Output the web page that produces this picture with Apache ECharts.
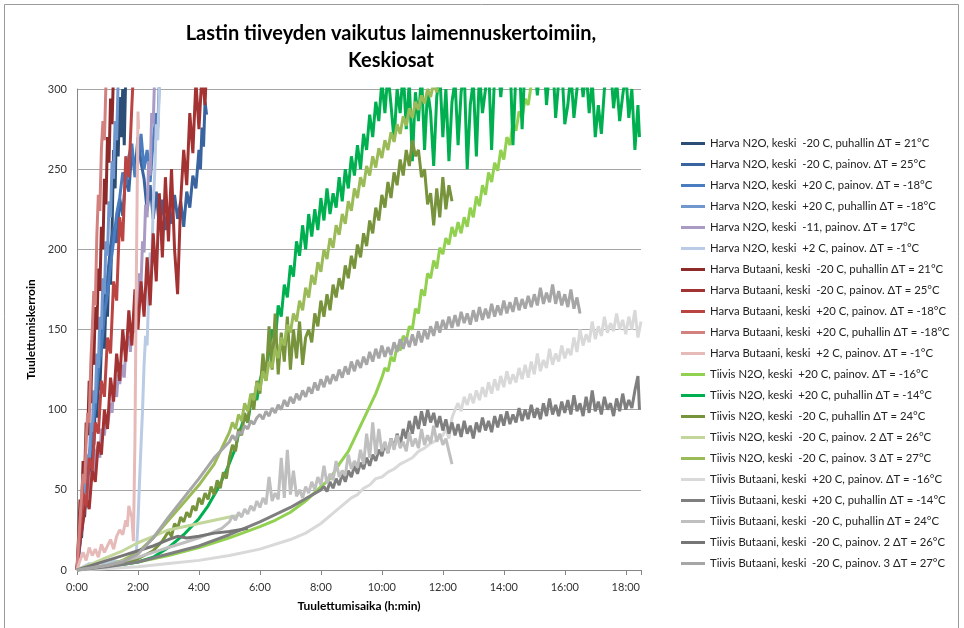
<!DOCTYPE html>
<html>
<head>
<meta charset="utf-8">
<title>Lastin tiiveyden vaikutus laimennuskertoimiin</title>
<script src="https://cdn.jsdelivr.net/npm/echarts@6/dist/echarts.min.js"></script>
<style>
  html, body { margin: 0; padding: 0; background: #fff; }
  #myChart { width: 964px; height: 628px; }
</style>
</head>
<body>
<div id="myChart"></div>
<script>
// aika tunteina (h), arvo = laimennuskerroin
const harvaN2oM20Puh = [[0,0],[0.05,12],[0.1,26],[0.15,20],[0.2,38],[0.25,33],[0.3,52],[0.35,45],[0.4,68],[0.45,60],[0.5,85],[0.55,78],[0.6,104],[0.65,95],[0.7,122],[0.75,112],[0.8,140],[0.85,150],[0.9,138],[0.95,168],[1.0,158],[1.05,190],[1.1,178],[1.15,212],[1.2,262],[1.25,238],[1.3,280],[1.35,258],[1.4,295],[1.45,270],[1.5,300],[1.55,265],[1.6,310]]
const harvaN2oM20Pain = [[0,0],[0.1,16],[0.2,34],[0.3,48],[0.4,72],[0.5,84],[0.6,102],[0.7,126],[0.8,146],[0.9,168],[1.0,182],[1.1,202],[1.2,214],[1.3,204],[1.4,232],[1.5,221],[1.6,246],[1.7,236],[1.8,262],[1.9,248],[2.0,270],[2.1,254],[2.2,244],[2.3,224],[2.4,240],[2.5,219],[2.6,236],[2.7,214],[2.8,231],[2.9,212],[3.0,226],[3.1,216],[3.2,234],[3.3,219],[3.4,230],[3.5,214],[3.6,236],[3.7,226],[3.8,246],[3.9,238],[4.0,262],[4.05,250],[4.1,276],[4.15,264],[4.2,292],[4.25,284]]
const harvaN2oP20Pain = [[0,0],[0.1,18],[0.2,32],[0.3,52],[0.4,66],[0.5,88],[0.6,102],[0.7,124],[0.8,138],[0.9,160],[1.0,172],[1.1,190],[1.2,205],[1.3,222],[1.4,232],[1.5,248],[1.6,240],[1.7,258],[1.8,266],[1.9,245],[2.0,256],[2.1,272],[2.2,250],[2.3,262],[2.4,242],[2.5,268],[2.6,285],[2.65,276],[2.7,305]]
const harvaN2oP20Puh = [[0,0],[0.05,14],[0.1,24],[0.15,38],[0.2,34],[0.25,55],[0.3,50],[0.35,72],[0.4,66],[0.45,92],[0.5,86],[0.55,112],[0.6,104],[0.65,135],[0.7,126],[0.75,158],[0.8,150],[0.85,182],[0.9,172],[0.95,205],[1.0,196],[1.05,230],[1.1,220],[1.15,255],[1.2,244],[1.25,280],[1.3,268],[1.35,305]]
const harvaN2oM11Pain = [[0,0],[0.05,18],[0.1,30],[0.15,26],[0.2,40],[0.3,48],[0.35,44],[0.4,56],[0.5,62],[0.55,58],[0.6,72],[0.7,78],[0.75,70],[0.8,88],[0.9,84],[0.95,96],[1.0,90],[1.1,104],[1.15,98],[1.2,114],[1.3,108],[1.35,122],[1.4,116],[1.5,128],[1.55,120],[1.6,138],[1.7,146],[1.75,136],[1.8,152],[1.9,148],[1.95,165],[2.0,160],[2.05,185],[2.1,178],[2.15,205],[2.2,198],[2.25,228],[2.3,220],[2.35,255],[2.4,246],[2.45,285],[2.5,278],[2.55,310]]
const harvaN2oP2Pain = [[0,0],[0.2,2],[0.4,4],[0.6,3],[0.8,5],[1.0,4],[1.2,6],[1.4,5],[1.6,7],[1.8,8],[1.95,12],[2.0,30],[2.05,55],[2.1,78],[2.15,100],[2.2,128],[2.25,146],[2.3,140],[2.35,172],[2.4,198],[2.45,190],[2.5,228],[2.55,248],[2.6,278],[2.65,268],[2.7,300],[2.75,310]]
const harvaButM20Puh = [[0,0],[0.05,20],[0.1,44],[0.15,38],[0.2,68],[0.25,58],[0.3,92],[0.35,84],[0.4,118],[0.45,104],[0.5,140],[0.55,128],[0.6,164],[0.65,150],[0.7,188],[0.75,174],[0.8,214],[0.85,200],[0.9,244],[0.95,228],[1.0,270],[1.05,254],[1.1,294],[1.15,278],[1.2,312]]
const harvaButM20Pain = [[0,0],[0.1,18],[0.2,30],[0.3,45],[0.4,38],[0.5,62],[0.6,55],[0.7,80],[0.8,72],[0.9,100],[1.0,88],[1.1,120],[1.2,105],[1.3,135],[1.4,118],[1.5,150],[1.6,130],[1.7,162],[1.8,140],[1.9,175],[2.0,150],[2.1,180],[2.2,158],[2.3,195],[2.4,165],[2.5,210],[2.6,180],[2.7,235],[2.8,195],[2.9,245],[3.0,205],[3.1,250],[3.2,200],[3.3,172],[3.4,230],[3.5,262],[3.6,240],[3.7,285],[3.8,260],[3.9,305],[4.0,275],[4.1,310],[4.2,290],[4.25,315]]
const harvaButP20Pain = [[0,0],[0.1,25],[0.2,48],[0.3,40],[0.4,70],[0.5,62],[0.6,92],[0.7,85],[0.8,118],[0.9,108],[1.0,145],[1.1,135],[1.2,180],[1.3,168],[1.4,220],[1.5,205],[1.6,258],[1.7,245],[1.8,290],[1.85,310]]
const harvaButP20Puh = [[0,0],[0.05,16],[0.1,32],[0.15,46],[0.2,60],[0.25,54],[0.3,80],[0.35,98],[0.4,92],[0.45,128],[0.5,150],[0.55,174],[0.6,165],[0.65,208],[0.7,234],[0.75,224],[0.8,262],[0.85,280],[0.9,268],[0.95,304],[1.0,320]]
const harvaButP2Pain = [[0,0],[0.1,6],[0.2,11],[0.3,6],[0.4,14],[0.5,9],[0.6,13],[0.7,8],[0.8,16],[0.9,11],[1.0,15],[1.1,19],[1.2,13],[1.3,21],[1.4,25],[1.5,22],[1.6,31],[1.65,27],[1.7,40],[1.75,36],[1.8,33],[1.85,18],[1.9,80],[1.95,190],[2.0,286],[2.02,275]]

const tiivisN2oP20Pain = [[0,0],[1,2],[2,5],[3,9],[4,14],[5,20],[6,27],[6.5,31],[7,36],[7.5,43],[8,52],[8.3,57],[8.6,66],[8.9,74],[9.2,86],[9.5,98],[9.8,110],[10.0,120],[10.1,126],[10.2,124],[10.3,133],[10.4,130],[10.5,140],[10.6,137],[10.7,146],[10.8,143],[10.9,152],[11.0,150],[11.1,163],[11.2,160],[11.3,175],[11.4,171],[11.5,185],[11.6,182],[11.7,193],[11.8,188],[11.9,201],[12.0,197],[12.1,207],[12.2,203],[12.3,214],[12.4,208],[12.5,217],[12.6,210],[12.7,220],[12.8,214],[12.9,226],[13.0,220],[13.1,233],[13.2,227],[13.3,240],[13.4,234],[13.5,248],[13.6,242],[13.7,254],[13.8,249],[13.9,262],[14.0,256],[14.1,270],[14.2,265],[14.3,279],[14.4,274],[14.5,286],[14.6,282],[14.7,294],[14.8,290],[14.9,303],[15.0,308]]
const tiivisN2oP20Puh = [[0,0],[1,2],[2,5],[2.5,8],[3,14],[3.5,22],[4,32],[4.3,40],[4.6,50],[4.9,62],[5.2,76],[5.3,85],[5.4,90],[5.5,96],[5.6,92],[5.7,104],[5.8,110],[5.9,106],[6.0,118],[6.1,125],[6.2,120],[6.3,138],[6.4,150],[6.5,142],[6.6,165],[6.7,158],[6.8,178],[6.9,170],[7.0,190],[7.1,183],[7.2,205],[7.3,196],[7.4,215],[7.5,200],[7.6,222],[7.7,208],[7.8,225],[7.9,212],[8.0,232],[8.1,218],[8.2,238],[8.3,222],[8.4,235],[8.5,226],[8.6,245],[8.7,230],[8.8,250],[8.9,238],[9.0,258],[9.1,246],[9.2,265],[9.3,250],[9.4,272],[9.5,262],[9.6,284],[9.7,270],[9.8,292],[9.9,280],[10.0,305],[10.1,285],[10.2,310],[10.3,290],[10.4,268],[10.5,300],[10.6,285],[10.7,312],[10.8,275],[10.9,305],[11.0,255],[11.1,298],[11.2,280],[11.3,310],[11.4,262],[11.5,300],[11.6,285],[11.7,252],[11.8,295],[11.9,310],[12.0,270],[12.1,300],[12.2,255],[12.3,292],[12.4,305],[12.5,265],[12.6,298],[12.7,312],[12.8,250],[12.9,290],[13.0,305],[13.1,258],[13.2,310],[13.3,285],[13.4,300],[13.5,315],[13.6,262],[13.7,310],[13.8,320],[13.9,295],[14.0,315],[14.1,305],[14.2,320],[14.3,265],[14.4,312],[14.5,322],[14.6,275],[14.7,318],[14.8,325],[14.9,310],[15.0,320],[15.1,296],[15.2,318],[15.3,325],[15.4,290],[15.5,312],[15.6,320],[15.7,282],[15.8,305],[15.9,315],[16.0,278],[16.1,290],[16.2,310],[16.3,282],[16.4,300],[16.5,318],[16.6,295],[16.7,312],[16.8,285],[16.9,305],[17.0,270],[17.1,290],[17.2,272],[17.3,300],[17.4,310],[17.5,315],[17.6,288],[17.7,305],[17.8,280],[17.9,296],[18.0,310],[18.1,282],[18.2,300],[18.3,262],[18.4,290],[18.45,270]]
const tiivisN2oM20Puh = [[0,0],[0.5,1],[1,2],[1.5,4],[2,7],[2.5,12],[2.8,18],[3.0,24],[3.1,21],[3.2,29],[3.3,26],[3.4,33],[3.5,30],[3.6,36],[3.7,33],[3.8,40],[3.9,37],[4.0,45],[4.1,41],[4.2,48],[4.3,44],[4.4,52],[4.5,47],[4.6,56],[4.7,51],[4.8,61],[4.9,57],[5.0,70],[5.1,78],[5.2,74],[5.3,88],[5.4,84],[5.5,98],[5.6,92],[5.7,108],[5.8,100],[5.9,118],[6.0,110],[6.1,135],[6.2,118],[6.3,152],[6.4,125],[6.5,160],[6.6,122],[6.7,148],[6.8,130],[6.9,158],[7.0,125],[7.1,150],[7.2,132],[7.3,155],[7.4,128],[7.5,145],[7.6,150],[7.7,142],[7.8,160],[7.9,152],[8.0,168],[8.1,158],[8.2,172],[8.3,162],[8.4,178],[8.5,170],[8.6,182],[8.7,175],[8.8,190],[8.9,182],[9.0,196],[9.1,188],[9.2,203],[9.3,195],[9.4,210],[9.5,202],[9.6,218],[9.7,210],[9.8,226],[9.9,218],[10.0,234],[10.1,226],[10.2,242],[10.3,232],[10.4,248],[10.5,240],[10.6,256],[10.7,246],[10.8,262],[10.9,252],[11.0,268],[11.1,258],[11.2,262],[11.3,245],[11.4,250],[11.5,228],[11.6,235],[11.7,215],[11.8,238],[11.9,220],[12.0,245],[12.1,225],[12.2,240],[12.3,230]]
const tiivisN2oM20Pain2 = [[0,0],[0.5,4],[1,8],[1.5,12],[2,17],[2.5,21],[3,25],[3.5,27],[4,29],[4.5,31],[5,33],[5.3,34]]
const tiivisN2oM20Pain3 = [[0,0],[1,3],[1.5,6],[2,11],[2.5,20],[3,31],[3.5,42],[4,53],[4.5,66],[5.0,86],[5.1,92],[5.2,88],[5.3,97],[5.4,93],[5.5,104],[5.6,99],[5.7,110],[5.8,106],[5.9,117],[6.0,112],[6.1,124],[6.2,118],[6.3,130],[6.4,126],[6.5,138],[6.6,132],[6.7,145],[6.8,140],[6.9,153],[7.0,148],[7.1,160],[7.2,155],[7.3,168],[7.4,162],[7.5,176],[7.6,170],[7.7,184],[7.8,178],[7.9,192],[8.0,186],[8.1,200],[8.2,194],[8.3,207],[8.4,201],[8.5,215],[8.6,209],[8.7,222],[8.8,216],[8.9,230],[9.0,224],[9.1,238],[9.2,232],[9.3,245],[9.4,239],[9.5,252],[9.6,246],[9.7,258],[9.8,251],[9.9,263],[10.0,257],[10.1,268],[10.2,262],[10.3,273],[10.4,267],[10.5,278],[10.6,272],[10.7,283],[10.8,277],[10.9,288],[11.0,282],[11.1,292],[11.2,287],[11.3,296],[11.4,291],[11.5,300],[11.6,295],[11.7,304],[11.8,298],[11.9,308]]

const tiivisButP20Pain = [[0,0],[1,1],[2,2],[3,4],[4,6],[5,9],[6,13],[7,19],[7.5,23],[8,29],[8.5,37],[9,45],[9.2,47],[9.4,51],[9.6,53],[9.8,57],[10,58],[10.2,61],[10.4,63],[10.6,66],[10.8,68],[11,70],[11.2,74],[11.4,76],[11.6,79],[11.8,81],[12.0,84],[12.1,88],[12.2,82],[12.3,95],[12.4,100],[12.5,104],[12.6,99],[12.7,108],[12.8,103],[12.9,110],[13.0,104],[13.1,112],[13.2,106],[13.3,114],[13.4,108],[13.5,117],[13.6,110],[13.7,119],[13.8,112],[13.9,121],[14.0,114],[14.1,124],[14.2,116],[14.3,122],[14.4,117],[14.5,126],[14.6,119],[14.7,128],[14.8,120],[14.9,130],[15.0,122],[15.1,135],[15.2,124],[15.3,131],[15.4,126],[15.5,138],[15.6,128],[15.7,135],[15.8,130],[15.9,140],[16.0,132],[16.1,138],[16.2,134],[16.3,145],[16.4,136],[16.5,150],[16.6,140],[16.7,147],[16.8,142],[16.9,155],[17.0,144],[17.1,152],[17.2,146],[17.3,158],[17.4,148],[17.5,154],[17.6,149],[17.7,160],[17.8,150],[17.9,156],[18.0,147],[18.1,158],[18.2,150],[18.3,162],[18.4,145],[18.5,155]]
const tiivisButP20Puh = [[0,0],[1,2],[2,5],[3,10],[4,15],[5,22],[6,30],[7,39],[8.0,50],[8.1,52],[8.2,49],[8.3,55],[8.4,51],[8.5,57],[8.6,53],[8.7,60],[8.8,55],[8.9,62],[9.0,58],[9.1,65],[9.2,60],[9.3,67],[9.4,63],[9.5,70],[9.6,65],[9.7,72],[9.8,68],[9.9,75],[10.0,71],[10.1,79],[10.2,73],[10.3,82],[10.4,76],[10.5,85],[10.6,78],[10.7,88],[10.8,82],[10.9,93],[11.0,85],[11.1,96],[11.2,88],[11.3,99],[11.4,90],[11.5,100],[11.6,92],[11.7,98],[11.8,89],[11.9,96],[12.0,87],[12.1,94],[12.2,85],[12.3,92],[12.4,84],[12.5,91],[12.6,83],[12.7,93],[12.8,85],[12.9,90],[13.0,82],[13.1,92],[13.2,86],[13.3,95],[13.4,87],[13.5,93],[13.6,86],[13.7,96],[13.8,89],[13.9,97],[14.0,90],[14.1,99],[14.2,91],[14.3,97],[14.4,92],[14.5,101],[14.6,93],[14.7,100],[14.8,94],[14.9,103],[15.0,95],[15.1,101],[15.2,94],[15.3,104],[15.4,96],[15.5,107],[15.6,97],[15.7,103],[15.8,96],[15.9,105],[16.0,98],[16.1,106],[16.2,97],[16.3,109],[16.4,99],[16.5,104],[16.6,96],[16.7,108],[16.8,98],[16.9,112],[17.0,99],[17.1,105],[17.2,97],[17.3,108],[17.4,100],[17.5,104],[17.6,96],[17.7,107],[17.8,99],[17.9,110],[18.0,100],[18.1,106],[18.2,101],[18.3,112],[18.4,121],[18.45,100]]
const tiivisButM20Puh = [[0,0],[1,3],[2,8],[2.5,11],[3,14],[3.5,17],[4,20],[4.4,23],[4.75,26],[5.0,30],[5.1,34],[5.2,31],[5.3,36],[5.4,33],[5.5,38],[5.6,35],[5.7,40],[5.8,37],[5.9,43],[6.0,39],[6.1,45],[6.2,41],[6.3,58],[6.4,43],[6.5,48],[6.6,44],[6.7,70],[6.8,45],[6.9,75],[7.0,47],[7.1,62],[7.2,46],[7.3,50],[7.4,45],[7.5,52],[7.6,48],[7.7,55],[7.8,50],[7.9,58],[8.0,53],[8.1,65],[8.2,54],[8.3,60],[8.4,56],[8.5,68],[8.6,58],[8.7,62],[8.8,59],[8.9,72],[9.0,63],[9.1,68],[9.2,64],[9.3,75],[9.4,66],[9.5,85],[9.6,70],[9.7,92],[9.8,72],[9.9,88],[10.0,74],[10.1,80],[10.2,73],[10.3,82],[10.4,75],[10.5,84],[10.6,76],[10.7,80],[10.8,74],[10.9,86],[11.0,77],[11.1,82],[11.2,76],[11.3,88],[11.4,78],[11.5,84],[11.6,79],[11.7,90],[11.8,80],[11.9,85],[12.0,78],[12.1,82],[12.2,74],[12.3,66]]
const tiivisButM20Pain2 = [[0,0],[0.5,3],[1,6],[1.5,9],[2,12],[2.5,15],[3,19],[3.3,21],[3.6,20],[4,21],[4.5,23],[5,24],[5.3,25],[5.6,26]]
const tiivisButM20Pain3 = [[0,0],[1,3],[1.5,5],[2,10],[2.5,20],[3,33],[3.5,45],[4,57],[4.5,70],[5.0,80],[5.1,84],[5.2,81],[5.3,86],[5.4,85],[5.5,90],[5.6,88],[5.7,93],[5.8,91],[5.9,95],[6.0,97],[6.1,94],[6.2,99],[6.3,96],[6.4,101],[6.5,98],[6.6,103],[6.7,100],[6.8,106],[6.9,102],[7.0,108],[7.1,104],[7.2,110],[7.3,106],[7.4,112],[7.5,108],[7.6,114],[7.7,110],[7.8,117],[7.9,112],[8.0,119],[8.1,114],[8.2,121],[8.3,116],[8.4,122],[8.5,118],[8.6,125],[8.7,120],[8.8,127],[8.9,122],[9.0,130],[9.1,124],[9.2,131],[9.3,126],[9.4,133],[9.5,128],[9.6,136],[9.7,130],[9.8,138],[9.9,132],[10.0,140],[10.1,133],[10.2,139],[10.3,134],[10.4,142],[10.5,136],[10.6,144],[10.7,138],[10.8,145],[10.9,139],[11.0,147],[11.1,140],[11.2,149],[11.3,142],[11.4,150],[11.5,144],[11.6,152],[11.7,146],[11.8,155],[11.9,148],[12.0,156],[12.1,150],[12.2,158],[12.3,151],[12.4,159],[12.5,152],[12.6,161],[12.7,154],[12.8,160],[12.9,153],[13.0,162],[13.1,155],[13.2,164],[13.3,156],[13.4,163],[13.5,157],[13.6,166],[13.7,158],[13.8,165],[13.9,159],[14.0,168],[14.1,160],[14.2,167],[14.3,161],[14.4,170],[14.5,162],[14.6,169],[14.7,163],[14.8,171],[14.9,164],[15.0,172],[15.1,165],[15.2,176],[15.3,166],[15.4,173],[15.5,167],[15.6,178],[15.7,166],[15.8,174],[15.9,165],[16.0,172],[16.1,164],[16.2,175],[16.3,163],[16.4,170],[16.5,160]]

const seriesNames = [
  'Harva N2O, keski  -20 C, puhallin ΔT = 21°C',
  'Harva N2O, keski  -20 C, painov. ΔT = 25°C',
  'Harva N2O, keski  +20 C, painov. ΔT = -18°C',
  'Harva N2O, keski  +20 C, puhallin ΔT = -18°C',
  'Harva N2O, keski  -11, painov. ΔT = 17°C',
  'Harva N2O, keski  +2 C, painov. ΔT = -1°C',
  'Harva Butaani, keski  -20 C, puhallin ΔT = 21°C',
  'Harva Butaani, keski  -20 C, painov. ΔT = 25°C',
  'Harva Butaani, keski  +20 C, painov. ΔT = -18°C',
  'Harva Butaani, keski  +20 C, puhallin ΔT = -18°C',
  'Harva Butaani, keski  +2 C, painov. ΔT = -1°C',
  'Tiivis N2O, keski  +20 C, painov. ΔT = -16°C',
  'Tiivis N2O, keski  +20 C, puhallin ΔT = -14°C',
  'Tiivis N2O, keski  -20 C, puhallin ΔT = 24°C',
  'Tiivis N2O, keski  -20 C, painov. 2 ΔT = 26°C',
  'Tiivis N2O, keski  -20 C, painov. 3 ΔT = 27°C',
  'Tiivis Butaani, keski  +20 C, painov. ΔT = -16°C',
  'Tiivis Butaani, keski  +20 C, puhallin ΔT = -14°C',
  'Tiivis Butaani, keski  -20 C, puhallin ΔT = 24°C',
  'Tiivis Butaani, keski  -20 C, painov. 2 ΔT = 26°C',
  'Tiivis Butaani, keski  -20 C, painov. 3 ΔT = 27°C'
]
const seriesData = [
  harvaN2oM20Puh, harvaN2oM20Pain, harvaN2oP20Pain, harvaN2oP20Puh, harvaN2oM11Pain, harvaN2oP2Pain,
  harvaButM20Puh, harvaButM20Pain, harvaButP20Pain, harvaButP20Puh, harvaButP2Pain,
  tiivisN2oP20Pain, tiivisN2oP20Puh, tiivisN2oM20Puh, tiivisN2oM20Pain2, tiivisN2oM20Pain3,
  tiivisButP20Pain, tiivisButP20Puh, tiivisButM20Puh, tiivisButM20Pain2, tiivisButM20Pain3
]
const yTicks = [0, 50, 100, 150, 200, 250, 300]
const xTicksHours = [0, 2, 4, 6, 8, 10, 12, 14, 16, 18]

const colors = [
  '#2C4D75', '#3A64A0', '#4A7CC0', '#7197CF', '#A99BC4', '#B9CBE5',
  '#8E2A2A', '#A33333', '#B94442', '#D3817F', '#E6BAB8',
  '#92D050', '#00B050', '#77933C', '#C3D69B', '#9BBB59',
  '#D9D9D9', '#7F7F7F', '#BFBFBF', '#767676', '#A6A6A6'
]
const font = 'Lato, "Open Sans", sans-serif'

const myChart = echarts.init(document.getElementById('myChart'), null, { renderer: 'canvas' })
const option = {
  animation: false,
  backgroundColor: '#fff',
  color: colors,
  textStyle: { fontFamily: font },
  graphic: [
    {
      type: 'rect',
      shape: { x: 4.5, y: 4.5, width: 954, height: 640 },
      style: { fill: 'none', stroke: '#9a9a9a', lineWidth: 1 },
      silent: true
    },
    {
      type: 'text',
      x: 391,
      y: 20,
      style: {
        text: 'Lastin tiiveyden vaikutus laimennuskertoimiin,\nKeskiosat',
        align: 'center',
        verticalAlign: 'top',
        fontFamily: font,
        fontSize: 20,
        fontWeight: 'bold',
        lineHeight: 27,
        fill: '#000'
      }
    }
  ],
  legend: {
    orient: 'vertical',
    left: 676,
    top: 133,
    itemWidth: 24,
    itemHeight: 14,
    itemGap: 10,
    icon: 'path://M0,0 L24,0 L24,3 L0,3 Z',
    selectedMode: false,
    data: seriesNames,
    textStyle: { fontSize: 11.3, color: '#222', fontFamily: font }
  },
  grid: {
    left: 77,
    right: 323,
    top: 89,
    bottom: 58,
    containLabel: false
  },
  xAxis: {
    type: 'value',
    min: 0,
    max: 18.5,
    interval: 2,
    name: 'Tuulettumisaika (h:min)',
    nameLocation: 'middle',
    nameGap: 30,
    nameTextStyle: { fontSize: 12, fontWeight: 'bold', color: '#000', fontFamily: font },
    axisLine: { lineStyle: { color: '#868686' } },
    axisTick: { show: true, length: 5, lineStyle: { color: '#868686' } },
    axisLabel: {
      fontSize: 11,
      color: '#333',
      margin: 12,
      formatter: v => (xTicksHours.indexOf(v) >= 0 ? v + ':00' : '')
    },
    splitLine: { show: false }
  },
  yAxis: {
    type: 'value',
    min: yTicks[0],
    max: yTicks[yTicks.length - 1],
    interval: 50,
    name: 'Tuulettumiskerroin',
    nameLocation: 'middle',
    nameGap: 40,
    nameTextStyle: { fontSize: 12, fontWeight: 'bold', color: '#000', fontFamily: font },
    axisLine: { show: true, lineStyle: { color: '#868686' } },
    axisTick: { show: false },
    axisLabel: { fontSize: 11, color: '#333', margin: 10 },
    splitLine: { lineStyle: { color: '#a6a6a6', width: 1 } }
  },
  series: seriesNames.map((name, i) => ({
    name: name,
    type: 'line',
    data: seriesData[i],
    symbol: 'none',
    showSymbol: false,
    clip: true,
    lineStyle: { width: 3, color: colors[i] },
    itemStyle: { color: colors[i] },
    emphasis: { disabled: true }
  }))
}
myChart.setOption(option)
</script>
</body>
</html>
